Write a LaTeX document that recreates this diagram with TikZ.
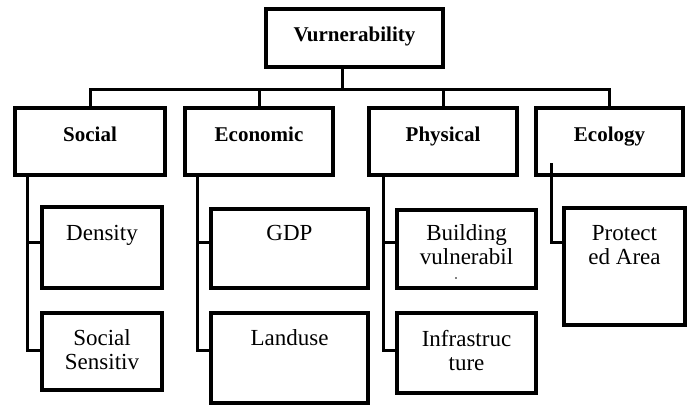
\documentclass[tikz,border=0pt]{standalone}
\usepackage{fontspec}
\setmainfont{Liberation Serif}
\begin{document}
\begin{tikzpicture}[x=1pt,y=-1pt,
  box/.style={draw, line width=3.2pt, rectangle, inner sep=0pt},
  wire/.style={line width=3pt},
  head/.style={font=\fontsize{21}{24}\selectfont\bfseries, anchor=base, inner sep=0pt},
  item/.style={font=\fontsize{23}{24}\selectfont, anchor=base, inner sep=0pt}]
\useasboundingbox (0,0) rectangle (692,407);

% ---- root ----
\node[box, minimum width=177pt, minimum height=58pt] (root) at (354.5,38) {};
\node[head] (rootT) at (354.5,41) {Vurnerability};

% ---- first level ----
\node[box, minimum width=150pt, minimum height=67pt] (soc)  at (90,141.5) {};
\node[box, minimum width=148pt, minimum height=67pt] (econ) at (259,141.5) {};
\node[box, minimum width=148pt, minimum height=67pt] (phys) at (443,141.5) {};
\node[box, minimum width=147pt, minimum height=67pt] (ecol) at (609.5,141.5) {};
\node[head] (socT)  at (90,141)    {Social};
\node[head] (econT) at (259,141)   {Economic};
\node[head] (physT) at (443,141)   {Physical};
\node[head] (ecolT) at (609.5,141) {Ecology};

% ---- second level ----
\node[box, minimum width=120pt, minimum height=81pt] (den)   at (102,247.5) {};
\node[box, minimum width=120pt, minimum height=77pt] (sens)  at (102,351.5) {};
\node[box, minimum width=157pt, minimum height=79pt] (gdp)   at (289.5,248.5) {};
\node[box, minimum width=157pt, minimum height=90pt] (land)  at (289.5,358) {};
\node[box, minimum width=139pt, minimum height=78pt] (build) at (466.5,249) {};
\node[box, minimum width=139pt, minimum height=80pt] (infra) at (466.5,353) {};
\node[box, minimum width=121pt, minimum height=117pt] (prot) at (624.5,266.5) {};

\node[item] (denT)   at (102,240)   {Density};
\node[item] (sensT)  at (102,345)   {\begin{tabular}[t]{@{}c@{}}Social\\Sensitiv\end{tabular}};
\node[item] (gdpT)   at (289.5,240) {GDP};
\node[item] (landT)  at (289.5,345) {Landuse};
\node[item] (buildT) at (466.5,240) {\begin{tabular}[t]{@{}c@{}}Building\\vulnerabil\end{tabular}};
\node[fill, circle, inner sep=0pt, minimum size=1.8pt] (buildDot) at (456,278) {};
\node[item] (infraT) at (466.5,346) {\begin{tabular}[t]{@{}c@{}}Infrastruc\\ture\end{tabular}};
\node[item] (protT)  at (624.5,240) {\begin{tabular}[t]{@{}c@{}}Protect\\ed Area\end{tabular}};

% ---- root to first level ----
\coordinate (bar) at (342,89);
\draw[wire] (root.south -| bar) -- (bar);
\draw[wire] (soc.north) |- (bar) -| (ecol.north);
\draw[wire] (econ.north) -- (econ.north |- bar);
\draw[wire] (phys.north) -- (phys.north |- bar);

% ---- spines to second level ----
\coordinate (sTop) at (27,175);  \coordinate (sMid) at (27,242);  \coordinate (sBot) at (27,350);
\draw[wire] (sTop) -- (sBot) -- (sBot -| sens.west);
\draw[wire] (sMid) -- (sMid -| den.west);

\coordinate (eTop) at (197,175); \coordinate (eMid) at (197,242); \coordinate (eBot) at (197,350);
\draw[wire] (eTop) -- (eBot) -- (eBot -| land.west);
\draw[wire] (eMid) -- (eMid -| gdp.west);

\coordinate (pTop) at (383,173); \coordinate (pMid) at (383,242); \coordinate (pBot) at (383,350);
\draw[wire] (pTop) -- (pBot) -- (pBot -| infra.west);
\draw[wire] (pMid) -- (pMid -| build.west);

\coordinate (gTop) at (551,163); \coordinate (gMid) at (551,242);
\draw[wire] (gTop) -- (gMid) -- (gMid -| prot.west);
\end{tikzpicture}
\end{document}
